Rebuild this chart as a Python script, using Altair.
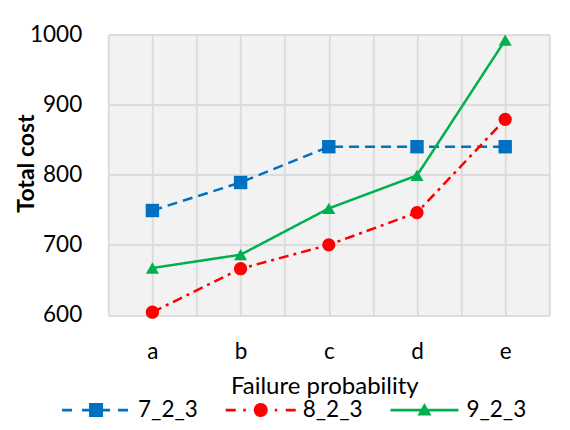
import json
import altair as alt
import pandas as pd

categories = ["a", "b", "c", "d", "e"]
series_names = ["7_2_3", "8_2_3", "9_2_3"]
cost_7_2_3 = [749, 789, 840, 840, 840]
cost_8_2_3 = [604, 666, 700, 746, 879]
cost_9_2_3 = [667, 686, 752, 799, 992]
y_ticks = [600, 700, 800, 900, 1000]

colors = ["#0070C0", "#FF0000", "#00B050"]
dashes = [[10, 6], [10, 5, 3, 5], [1, 0]]
marker_shapes = ["square", "circle", "triangle-up"]
marker_sizes = [180, 177, 170]


def rect(x1, x2, h=1.35):
    return f"M{x1},{-h} H{x2} V{h} H{x1} Z "


legend_paths = [
    rect(-34, -24) + rect(-14, -6.5) + "M-7,-7 H7 V7 H-7 Z " + rect(6.5, 14) + rect(22, 32),
    rect(-35, -25) + rect(-17.5, -15) + "M-7,0 A7,7 0 1,1 7,0 A7,7 0 1,1 -7,0 Z " + rect(14, 16.5) + rect(25, 35),
    rect(-34, -2) + "M0,-7 L7,5.5 L-7,5.5 Z " + rect(2, 34),
]

rows = []
for name, vals in zip(series_names, [cost_7_2_3, cost_8_2_3, cost_9_2_3]):
    for i, (c, v) in enumerate(zip(categories, vals)):
        rows.append({"series": name, "category": c, "idx": i, "cost": v})
df = pd.DataFrame(rows)

FONT = "Lato"
n = len(categories)
label_expr = f"datum.value % 1 == 0 ? {json.dumps(categories)}[datum.value] : ''"

x_enc = alt.X(
    "idx:Q",
    scale=alt.Scale(domain=[-0.5, n - 0.5], nice=False, zero=False),
    axis=alt.Axis(
        values=[-0.5 + 0.5 * k for k in range(2 * n + 1)],
        labelExpr=label_expr,
        title="Failure probability",
        grid=True, gridColor="#dcdcdc", gridWidth=2,
        domain=False, ticks=False,
        labelFont=FONT, labelFontSize=22.5, labelColor="black",
        labelPadding=26,
        titleFont=FONT, titleFontSize=24, titleFontWeight="normal", titleColor="black",
        titleX=216, titleY=78.3, titleBaseline="alphabetic",
    ),
)
y_enc = alt.Y(
    "cost:Q",
    scale=alt.Scale(domain=[600, 1000], nice=False, zero=False),
    axis=alt.Axis(
        values=y_ticks,
        format="d",
        title="Total cost",
        grid=True, gridColor="#dcdcdc", gridWidth=2,
        domain=False, ticks=False,
        labelFont=FONT, labelFontSize=22.5, labelColor="black",
        labelPadding=26.6,
        titleFont=FONT, titleFontSize=23, titleFontWeight="bold", titleColor="black",
        titleX=-81.6, titleY=128.5, titleBaseline="middle",
    ),
)
color_scale = alt.Scale(domain=series_names, range=colors)

base = alt.Chart(df)

leg_props = dict(
    title=None, orient="none", legendX=-23.5, legendY=364.25, direction="horizontal",
    symbolSize=4, symbolOpacity=1, symbolStrokeWidth=0,
    labelFont=FONT, labelFontSize=22.5, labelColor="black",
    labelOffset=30.75, columnPadding=26.7, padding=0,
)
legend_layer = base.mark_point(filled=True, opacity=0).encode(
    x=x_enc, y=y_enc,
    color=alt.Color("series:N", scale=color_scale, legend=alt.Legend(**leg_props)),
    shape=alt.Shape("series:N", scale=alt.Scale(domain=series_names, range=legend_paths), legend=alt.Legend(**leg_props)),
)

lines = base.mark_line(strokeWidth=2.5, strokeCap="butt").encode(
    x=x_enc, y=y_enc,
    color=alt.Color("series:N", scale=color_scale, legend=None),
    strokeDash=alt.StrokeDash("series:N", scale=alt.Scale(domain=series_names, range=dashes), legend=None),
)

point_layers = []
for name, shp, sz in zip(series_names, marker_shapes, marker_sizes):
    point_layers.append(
        base.transform_filter(alt.datum.series == name)
        .mark_point(shape=shp, filled=True, size=sz, opacity=1)
        .encode(x=x_enc, y=y_enc, color=alt.Color("series:N", scale=color_scale, legend=None))
    )

chart = (
    alt.layer(legend_layer, lines, *point_layers)
    .properties(
        width=441, height=280.5,
        autosize=alt.AutoSizeParams(type="none"),
        padding={"left": 100.3, "top": 26.5, "right": 12, "bottom": 106},
        background="white",
    )
    .configure_view(fill="#f2f2f2", stroke=None)
)

chart.save("out.html", embed_options={"renderer": "svg", "actions": False})
